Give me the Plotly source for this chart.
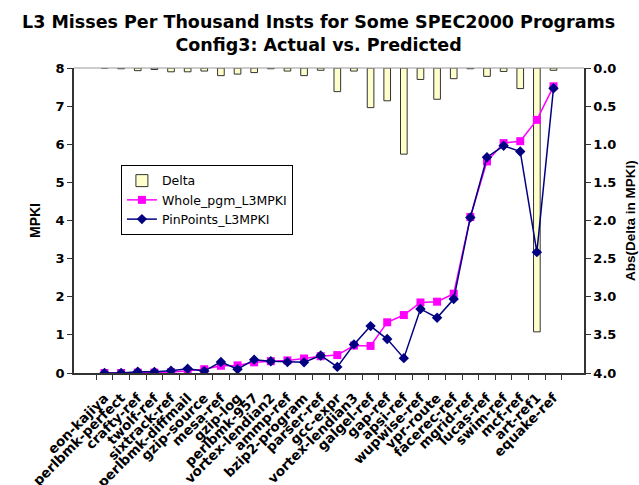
import plotly.graph_objects as go

categories = ["eon-kajiya", "perlbmk-perfect", "crafty-ref", "twolf-ref", "sixtrack-ref",
              "perlbmk-diffmail", "gzip-source", "mesa-ref", "gzip-log", "perlbmk-957",
              "vortex-lendian2", "ammp-ref", "bzip2-program", "parser-ref", "gcc-expr",
              "vortex-lendian3", "galgel-ref", "gap-ref", "apsi-ref", "wupwise-ref",
              "vpr-route", "facerec-ref", "mgrid-ref", "lucas-ref", "swim-ref",
              "mcf-ref", "art-ref1", "equake-ref"]

whole_pgm = [0.0, 0.0, 0.01, 0.01, 0.02, 0.05, 0.10, 0.19, 0.20, 0.28, 0.31, 0.33, 0.38, 0.44,
             0.47, 0.72, 0.71, 1.33, 1.52, 1.85, 1.87, 2.08, 4.09, 5.55, 6.03, 6.08, 6.64, 7.52]
pinpoints = [0.0, 0.0, 0.035, 0.03, 0.06, 0.11, 0.05, 0.29, 0.10, 0.35, 0.31, 0.29, 0.28, 0.46,
             0.16, 0.75, 1.23, 0.89, 0.39, 1.68, 1.45, 1.94, 4.08, 5.66, 5.96, 5.81, 3.17, 7.47]
delta = [0.0, 0.01, 0.035, 0.02, 0.05, 0.05, 0.04, 0.10, 0.08, 0.06, 0.01, 0.04, 0.10, 0.03,
         0.31, 0.04, 0.52, 0.43, 1.13, 0.15, 0.41, 0.14, 0.01, 0.11, 0.045, 0.27, 3.46, 0.03]

left_ticks = [0, 1, 2, 3, 4, 5, 6, 7, 8]
right_ticks = [0.0, 0.5, 1.0, 1.5, 2.0, 2.5, 3.0, 3.5, 4.0]

TITLE_TEXT = "L3 Misses Per Thousand Insts for Some SPEC2000 Programs<br>Config3: Actual vs. Predicted"

WIDE = "DejaVu Sans, Verdana, sans-serif"
ARIAL = "Liberation Sans, Arial, sans-serif"

fig = go.Figure()
fig.add_trace(go.Bar(
    x=categories, y=delta, name="Delta", yaxis="y", width=0.4,
    marker=dict(color="#FFFFCC", line=dict(color="#333333", width=1)),
))
fig.add_trace(go.Scatter(
    x=categories, y=whole_pgm, name="Whole_pgm_L3MPKI", yaxis="y2", mode="lines+markers",
    line=dict(color="#FF00FF", width=1.5),
    marker=dict(symbol="square", size=8, color="#FF00FF"),
))
fig.add_trace(go.Scatter(
    x=categories, y=pinpoints, name="PinPoints_L3MPKI", yaxis="y2", mode="lines+markers",
    line=dict(color="#000080", width=1.5),
    marker=dict(symbol="diamond", size=8, color="#000080"),
))

fig.update_layout(
    width=639, height=485,
    margin=dict(l=74, r=55, t=68, b=112),
    paper_bgcolor="white", plot_bgcolor="white",
    font=dict(family=WIDE, color="black"),
    showlegend=True,
    legend=dict(
        x=0.092, y=0.682, xanchor="left", yanchor="top",
        bgcolor="white", bordercolor="black", borderwidth=1,
        font=dict(size=12.5, family=WIDE), traceorder="normal",
    ),
    xaxis=dict(
        type="category", tickangle=-45, tickson="boundaries", automargin=False,
        tickmode="linear", tick0=0, dtick=1,
        ticks="outside", ticklen=5, tickcolor="#333333", ticklabelstandoff=10,
        showline=True, linecolor="#333333", linewidth=1.5,
        showgrid=False, zeroline=False,
        tickfont=dict(size=13.5, weight="bold", family=WIDE),
    ),
    yaxis=dict(
        side="right", range=[4, 0], tickvals=right_ticks, tickformat=".1f", automargin=False,
        ticks="outside", ticklen=5, tickcolor="#333333",
        showline=True, linecolor="#333333", linewidth=1.5,
        showgrid=False, zeroline=False,
        tickfont=dict(size=13, weight="bold", family=WIDE),
        title=dict(text="<b>Abs(Delta in MPKI)</b>", font=dict(size=13.5, weight="bold", family=ARIAL), standoff=10),
    ),
    yaxis2=dict(
        overlaying="y", side="left", range=[0, 8], tickvals=left_ticks, automargin=False,
        ticks="outside", ticklen=5, tickcolor="#333333",
        showline=True, linecolor="#333333", linewidth=1.5,
        showgrid=False, zeroline=False,
        tickfont=dict(size=13, weight="bold", family=WIDE),
        title=dict(text="<b>MPKI</b>", font=dict(size=14, weight="bold", family=ARIAL), standoff=12),
    ),
    annotations=[dict(
        text=TITLE_TEXT, xref="paper", yref="paper", x=0.48, y=(373 - 10) / 305,
        xanchor="center", yanchor="top", showarrow=False, align="center",
        font=dict(size=17.5, weight="bold", family=WIDE),
    )],
    shapes=[dict(type="line", xref="paper", yref="paper", x0=0, x1=1, y0=1, y1=1,
                 line=dict(color="#999999", width=1.2))],
)

fig.write_html("out.html")
